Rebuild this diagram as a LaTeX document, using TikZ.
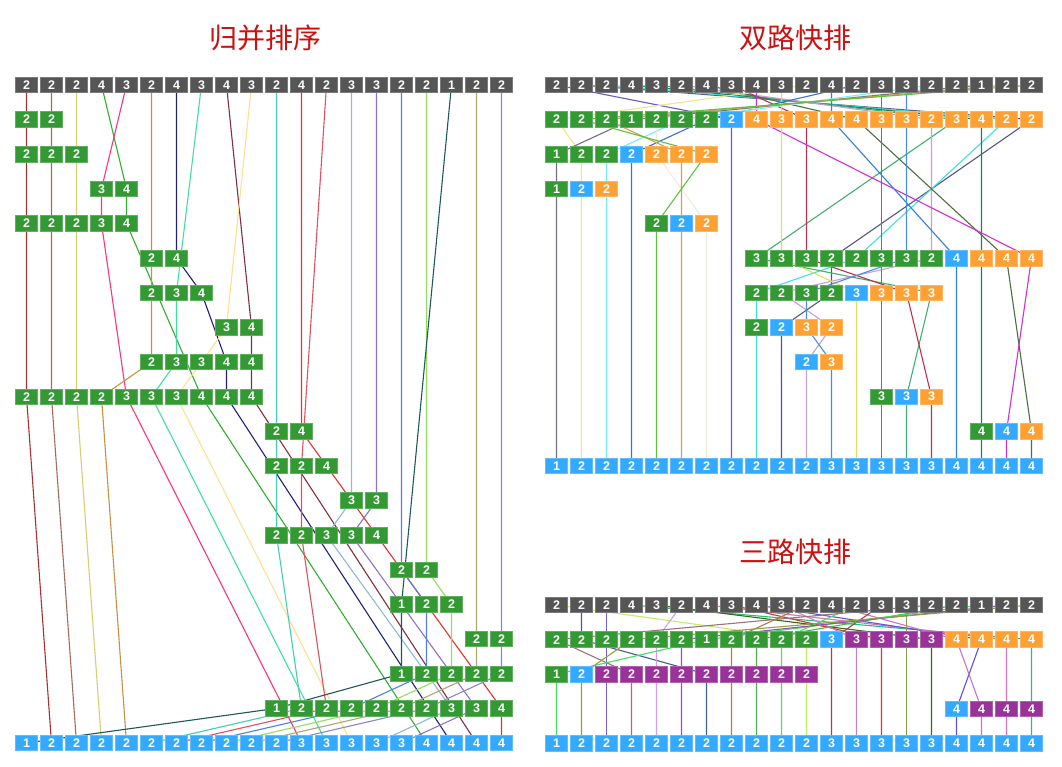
\documentclass[tikz,border=0pt]{standalone}
\usepackage{fontspec}
\setmainfont{Liberation Sans}
\newfontfamily\cjk{Noto Sans CJK SC}
\usetikzlibrary{backgrounds}
% cell colours
\definecolor{cK}{HTML}{555555}
\definecolor{cG}{HTML}{339933}
\definecolor{cB}{HTML}{33AAFF}
\definecolor{cO}{HTML}{FFA033}
\definecolor{cP}{HTML}{993399}
\definecolor{ctitle}{HTML}{CC1111}
% merge sort element colours
\definecolor{m0}{HTML}{A83232}\definecolor{m1}{HTML}{A86A5A}\definecolor{m2}{HTML}{D4D070}
\definecolor{m3}{HTML}{30B030}\definecolor{m4}{HTML}{FF3377}\definecolor{m5}{HTML}{C89040}
\definecolor{m6}{HTML}{202080}\definecolor{m7}{HTML}{40E0A0}\definecolor{m8}{HTML}{803040}
\definecolor{m9}{HTML}{FFE090}\definecolor{m10}{HTML}{40D0B0}\definecolor{m11}{HTML}{E83030}
\definecolor{m12}{HTML}{E05060}\definecolor{m13}{HTML}{90B8D8}\definecolor{m14}{HTML}{9070C8}
\definecolor{m15}{HTML}{5080E0}\definecolor{m16}{HTML}{90E060}\definecolor{m17}{HTML}{205858}
\definecolor{m18}{HTML}{A8A870}\definecolor{m19}{HTML}{8888CC}
% two-way quicksort element colours
\definecolor{t0}{HTML}{6A5ACD}\definecolor{t1}{HTML}{555588}\definecolor{t2}{HTML}{40E0E0}
\definecolor{t3}{HTML}{208050}\definecolor{t4}{HTML}{40B070}\definecolor{t5}{HTML}{C8A0D0}
\definecolor{t6}{HTML}{4A7040}\definecolor{t7}{HTML}{C03050}\definecolor{t8}{HTML}{D030D0}
\definecolor{t9}{HTML}{E0E060}\definecolor{t10}{HTML}{E8E890}\definecolor{t11}{HTML}{3080E0}
\definecolor{t12}{HTML}{4070D0}\definecolor{t13}{HTML}{20A070}\definecolor{t14}{HTML}{4A8EE0}
\definecolor{t15}{HTML}{70F0F0}\definecolor{t16}{HTML}{EEEEDD}\definecolor{t17}{HTML}{707088}
\definecolor{t18}{HTML}{D0A050}\definecolor{t19}{HTML}{60C040}
% three-way quicksort element colours
\definecolor{s0}{HTML}{C0F060}\definecolor{s1}{HTML}{406090}\definecolor{s2}{HTML}{7060E0}
\definecolor{s3}{HTML}{20C080}\definecolor{s4}{HTML}{307010}\definecolor{s5}{HTML}{D0A0F0}
\definecolor{s6}{HTML}{E070B0}\definecolor{s7}{HTML}{E03030}\definecolor{s8}{HTML}{6050E0}
\definecolor{s9}{HTML}{C080E0}\definecolor{s10}{HTML}{B08040}\definecolor{s11}{HTML}{D070C0}
\definecolor{s12}{HTML}{50E050}\definecolor{s13}{HTML}{B04030}\definecolor{s14}{HTML}{80A050}
\definecolor{s15}{HTML}{A07080}\definecolor{s16}{HTML}{50B050}\definecolor{s17}{HTML}{40E060}
\definecolor{s18}{HTML}{9050C0}\definecolor{s19}{HTML}{90A040}
% a row of cells: prefix, x0, y0, row, first column, list of colour/value
\newcommand\cellrow[6]{%
  \foreach \s/\v [count=\k from #5] in {#6}{%
    \node[cell,fill=c\s,draw=c\s!78!white] (#1-#4-\k) at ({#2+25*\k},{#3+34.63*#4}) {\v};}}
% the path of one element: prefix, colour, first cell, further cells
\newcommand\trace[4]{\draw[ln,draw=#2] (#1-#3.center) \foreach \p in {#4}{-- (#1-\p.center)};}
\begin{document}
\begin{tikzpicture}[x=1pt,y=-1pt,
  cell/.style={minimum width=22pt,minimum height=15.5pt,inner sep=0pt,text=white,
    font=\fontsize{12.5}{13}\selectfont\bfseries,line width=0.8pt},
  ln/.style={line width=1.1pt},
  ttl/.style={font=\cjk\fontsize{28}{30}\selectfont,text=ctitle}]
\useasboundingbox (0,0) rectangle (1062,766);
% titles
\node[ttl] (title1) at (265,38) {归并排序};
\node[ttl] (title2) at (795,38) {双路快排};
\node[ttl] (title3) at (795,552) {三路快排};
% ===== merge sort =====
\cellrow{M}{26.5}{85}{0}{0}{K/2,K/2,K/2,K/4,K/3,K/2,K/4,K/3,K/4,K/3,K/2,K/4,K/2,K/3,K/3,K/2,K/2,K/1,K/2,K/2}
\cellrow{M}{26.5}{85}{1}{0}{G/2,G/2}
\cellrow{M}{26.5}{85}{2}{0}{G/2,G/2,G/2}
\cellrow{M}{26.5}{85}{3}{3}{G/3,G/4}
\cellrow{M}{26.5}{85}{4}{0}{G/2,G/2,G/2,G/3,G/4}
\cellrow{M}{26.5}{85}{5}{5}{G/2,G/4}
\cellrow{M}{26.5}{85}{6}{5}{G/2,G/3,G/4}
\cellrow{M}{26.5}{85}{7}{8}{G/3,G/4}
\cellrow{M}{26.5}{85}{8}{5}{G/2,G/3,G/3,G/4,G/4}
\cellrow{M}{26.5}{85}{9}{0}{G/2,G/2,G/2,G/2,G/3,G/3,G/3,G/4,G/4,G/4}
\cellrow{M}{26.5}{85}{10}{10}{G/2,G/4}
\cellrow{M}{26.5}{85}{11}{10}{G/2,G/2,G/4}
\cellrow{M}{26.5}{85}{12}{13}{G/3,G/3}
\cellrow{M}{26.5}{85}{13}{10}{G/2,G/2,G/3,G/3,G/4}
\cellrow{M}{26.5}{85}{14}{15}{G/2,G/2}
\cellrow{M}{26.5}{85}{15}{15}{G/1,G/2,G/2}
\cellrow{M}{26.5}{85}{16}{18}{G/2,G/2}
\cellrow{M}{26.5}{85}{17}{15}{G/1,G/2,G/2,G/2,G/2}
\cellrow{M}{26.5}{85}{18}{10}{G/1,G/2,G/2,G/2,G/2,G/2,G/2,G/3,G/3,G/4}
\cellrow{M}{26.5}{85}{19}{0}{B/1,B/2,B/2,B/2,B/2,B/2,B/2,B/2,B/2,B/2,B/2,B/3,B/3,B/3,B/3,B/3,B/4,B/4,B/4,B/4}
% ===== two-way quicksort =====
\cellrow{T}{556.5}{85}{0}{0}{K/2,K/2,K/2,K/4,K/3,K/2,K/4,K/3,K/4,K/3,K/2,K/4,K/2,K/3,K/3,K/2,K/2,K/1,K/2,K/2}
\cellrow{T}{556.5}{85}{1}{0}{G/2,G/2,G/2,G/1,G/2,G/2,G/2,B/2,O/4,O/3,O/3,O/4,O/4,O/3,O/3,O/2,O/3,O/4,O/2,O/2}
\cellrow{T}{556.5}{85}{2}{0}{G/1,G/2,G/2,B/2,O/2,O/2,O/2}
\cellrow{T}{556.5}{85}{3}{0}{G/1,B/2,O/2}
\cellrow{T}{556.5}{85}{4}{4}{G/2,B/2,O/2}
\cellrow{T}{556.5}{85}{5}{8}{G/3,G/3,G/3,G/2,G/2,G/3,G/3,G/2,B/4,O/4,O/4,O/4}
\cellrow{T}{556.5}{85}{6}{8}{G/2,G/2,G/3,G/2,B/3,O/3,O/3,O/3}
\cellrow{T}{556.5}{85}{7}{8}{G/2,B/2,O/3,O/2}
\cellrow{T}{556.5}{85}{8}{10}{B/2,O/3}
\cellrow{T}{556.5}{85}{9}{13}{G/3,B/3,O/3}
\cellrow{T}{556.5}{85}{10}{17}{G/4,B/4,O/4}
\cellrow{T}{556.5}{85}{11}{0}{B/1,B/2,B/2,B/2,B/2,B/2,B/2,B/2,B/2,B/2,B/2,B/3,B/3,B/3,B/3,B/3,B/4,B/4,B/4,B/4}
% ===== three-way quicksort =====
\cellrow{S}{556.5}{605}{0}{0}{K/2,K/2,K/2,K/4,K/3,K/2,K/4,K/3,K/4,K/3,K/2,K/4,K/2,K/3,K/3,K/2,K/2,K/1,K/2,K/2}
\cellrow{S}{556.5}{605}{1}{0}{G/2,G/2,G/2,G/2,G/2,G/2,G/1,G/2,G/2,G/2,G/2,B/3,P/3,P/3,P/3,P/3,O/4,O/4,O/4,O/4}
\cellrow{S}{556.5}{605}{2}{0}{G/1,B/2,P/2,P/2,P/2,P/2,P/2,P/2,P/2,P/2,P/2}
\cellrow{S}{556.5}{605}{3}{16}{B/4,P/4,P/4,P/4}
\cellrow{S}{556.5}{605}{4}{0}{B/1,B/2,B/2,B/2,B/2,B/2,B/2,B/2,B/2,B/2,B/2,B/3,B/3,B/3,B/3,B/3,B/4,B/4,B/4,B/4}
% ===== connectors, behind the cells =====
\begin{pgfonlayer}{background}
\fill[white] (0,0) rectangle (1062,766);
% merge sort
\trace{M}{m0}{0-0}{1-0,2-0,4-0,9-0,19-1}
\trace{M}{m1}{0-1}{1-1,2-1,4-1,9-1,19-2}
\trace{M}{m2}{0-2}{2-2,4-2,9-2,19-3}
\trace{M}{m3}{0-3}{3-4,4-4,9-7,19-16}
\trace{M}{m4}{0-4}{3-3,4-3,9-4,19-11}
\trace{M}{m5}{0-5}{5-5,6-5,8-5,9-3,19-4}
\trace{M}{m6}{0-6}{5-6,6-7,8-8,9-8,19-17}
\trace{M}{m7}{0-7}{6-6,8-6,9-5,19-12}
\trace{M}{m8}{0-8}{7-9,8-9,9-9,19-18}
\trace{M}{m9}{0-9}{7-8,8-7,9-6,19-13}
\trace{M}{m10}{0-10}{10-10,11-10,13-10,18-11,19-5}
\trace{M}{m11}{0-11}{10-11,11-12,13-14,18-19,19-19}
\trace{M}{m12}{0-12}{11-11,13-11,18-12,19-6}
\trace{M}{m13}{0-13}{12-13,13-12,18-17,19-14}
\trace{M}{m14}{0-14}{12-14,13-13,18-18,19-15}
\trace{M}{m15}{0-15}{14-15,15-16,17-16,18-13,19-7}
\trace{M}{m16}{0-16}{14-16,15-17,17-17,18-14,19-8}
\trace{M}{m17}{0-17}{15-15,17-15,18-10,19-0}
\trace{M}{m18}{0-18}{16-18,17-18,18-15,19-9}
\trace{M}{m19}{0-19}{16-19,17-19,18-16,19-10}
% two-way quicksort
\trace{T}{t0}{0-0}{1-7,11-7}
\trace{T}{t1}{0-1}{1-19,5-11,6-11,7-9,11-9}
\trace{T}{t2}{0-2}{1-18,5-12,6-8,7-8,11-8}
\trace{T}{t3}{0-3}{1-17,5-17,10-17,11-17}
\trace{T}{t4}{0-4}{1-16,5-8,6-15,9-14,11-14}
\trace{T}{t5}{0-5}{1-15,5-15,6-9,7-11,8-10,11-10}
\trace{T}{t6}{0-6}{1-12,5-18,10-19,11-19}
\trace{T}{t7}{0-7}{1-10,5-10,6-14,9-15,11-15}
\trace{T}{t8}{0-8}{1-8,5-19,10-18,11-18}
\trace{T}{t9}{0-9}{1-9,5-9,6-12,11-12}
\trace{T}{t10}{0-10}{1-0,2-1,3-1,11-1}
\trace{T}{t11}{0-11}{1-11,5-16,11-16}
\trace{T}{t12}{0-12}{1-6,2-3,11-3}
\trace{T}{t13}{0-13}{1-13,5-13,6-13,9-13,11-13}
\trace{T}{t14}{0-14}{1-14,5-14,6-10,7-10,8-11,11-11}
\trace{T}{t15}{0-15}{1-5,2-2,3-2,11-2}
\trace{T}{t16}{0-16}{1-4,2-4,4-6,11-6}
\trace{T}{t17}{0-17}{1-3,2-0,3-0,11-0}
\trace{T}{t18}{0-18}{1-2,2-5,4-5,11-5}
\trace{T}{t19}{0-19}{1-1,2-6,4-4,11-4}
% three-way quicksort
\trace{S}{s0}{0-0}{1-10,2-10,4-10}
\trace{S}{s1}{0-1}{1-1,2-6,4-6}
\trace{S}{s2}{0-2}{1-2,2-2,4-2}
\trace{S}{s3}{0-3}{1-19,3-19,4-19}
\trace{S}{s4}{0-4}{1-15,4-15}
\trace{S}{s5}{0-5}{1-4,2-4,4-4}
\trace{S}{s6}{0-6}{1-18,3-18,4-18}
\trace{S}{s7}{0-7}{1-13,4-13}
\trace{S}{s8}{0-8}{1-17,3-16,4-16}
\trace{S}{s9}{0-9}{1-12,4-12}
\trace{S}{s10}{0-10}{1-7,2-7,4-7}
\trace{S}{s11}{0-11}{1-16,3-17,4-17}
\trace{S}{s12}{0-12}{1-9,2-9,4-9}
\trace{S}{s13}{0-13}{1-11,4-11}
\trace{S}{s14}{0-14}{1-14,4-14}
\trace{S}{s15}{0-15}{1-0,2-3,4-3}
\trace{S}{s16}{0-16}{1-8,2-8,4-8}
\trace{S}{s17}{0-17}{1-6,2-0,4-0}
\trace{S}{s18}{0-18}{1-5,2-5,4-5}
\trace{S}{s19}{0-19}{1-3,2-1,4-1}
\end{pgfonlayer}
\end{tikzpicture}
\end{document}
